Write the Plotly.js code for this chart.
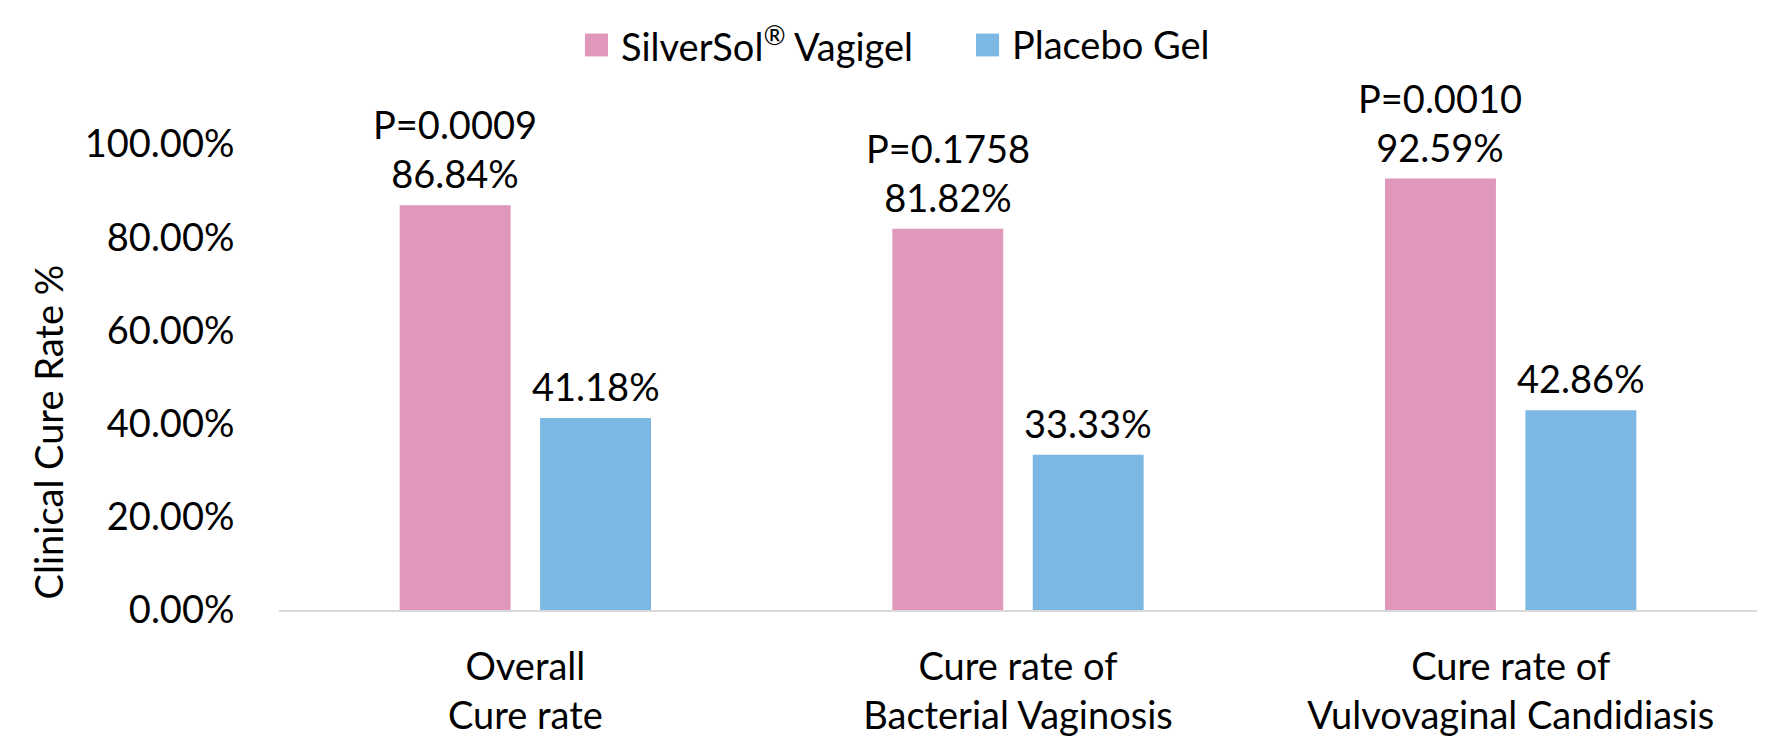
<!DOCTYPE html>
<html>
<head>
<meta charset="utf-8">
<script src="https://cdn.plot.ly/plotly-3.0.1.min.js"></script>
<style>
  html, body { margin: 0; padding: 0; background: #fff; }
  #chart { width: 1780px; height: 749px; }
</style>
</head>
<body>
<div id="chart"></div>
<script>
// categories on the x axis
let categories = [
    "Overall<br>Cure rate",
    "Cure rate of<br>Bacterial Vaginosis",
    "Cure rate of<br>Vulvovaginal Candidiasis"
];
let series_names = ["SilverSol<sup>®</sup> Vagigel", "Placebo Gel"];
let silversol_values = [0.8684, 0.8182, 0.9259];
let placebo_values = [0.4118, 0.3333, 0.4286];
let p_values = ["0.0009", "0.1758", "0.0010"];
let series_colors = ["#DF97BB", "#7DB8E5"];

let font_family = "Lato, 'Open Sans', sans-serif";
let font_size = 38;
let bar_gap = 0.43;

var data = [
    {
        type: 'bar',
        name: series_names[0],
        x: categories,
        y: silversol_values,
        marker: { color: series_colors[0] },
        showlegend: false,
        hoverinfo: 'y'
    },
    {
        type: 'bar',
        name: series_names[1],
        x: categories,
        y: placebo_values,
        marker: { color: series_colors[1] },
        showlegend: false,
        hoverinfo: 'y'
    }
];

// data labels above bars, placed at the grouped bar centres
var annotations = [];
var offset = (1 - bar_gap) / 4;
for (var i = 0; i < categories.length; ++i) {
    annotations.push({
        xref: 'x', yref: 'y',
        x: i - offset, y: silversol_values[i],
        text: "P=" + p_values[i] + "<br>" + (silversol_values[i] * 100).toFixed(2) + "%",
        showarrow: false, yanchor: 'bottom', yshift: 7
    });
    annotations.push({
        xref: 'x', yref: 'y',
        x: i + offset, y: placebo_values[i],
        text: (placebo_values[i] * 100).toFixed(2) + "%",
        showarrow: false, yanchor: 'bottom', yshift: 7
    });
}

// y axis title, sits a bit lower than the plot centre
annotations.push({
    xref: 'paper', yref: 'paper',
    x: -0.156, y: 0.382,
    text: "Clinical Cure Rate %",
    textangle: -90,
    showarrow: false,
    xanchor: 'center', yanchor: 'middle'
});

// legend drawn by hand so the swatches can be large
var legend_x = [0.2070, 0.4716];
var shapes = [];
for (var s = 0; s < series_names.length; ++s) {
    shapes.push({
        type: 'rect', xref: 'paper', yref: 'paper',
        x0: legend_x[s], x1: legend_x[s] + 0.0156,
        y0: 1.188, y1: 1.237,
        fillcolor: series_colors[s],
        line: { width: 0 }
    });
    annotations.push({
        xref: 'paper', yref: 'paper',
        x: legend_x[s] + 0.0230, y: 1.2136,
        text: series_names[s],
        showarrow: false,
        xanchor: 'left', yanchor: 'middle'
    });
}

var layout = {
    width: 1780,
    height: 749,
    margin: { l: 279, r: 23, t: 144, b: 139 },
    paper_bgcolor: '#ffffff',
    plot_bgcolor: '#ffffff',
    font: { family: font_family, size: font_size, color: '#000000' },
    barmode: 'group',
    bargap: bar_gap,
    bargroupgap: 0.21,
    showlegend: false,
    xaxis: {
        type: 'category',
        showline: true,
        linecolor: '#D9D9D9',
        linewidth: 2,
        showgrid: false,
        zeroline: false,
        ticks: 'outside',
        ticklen: 22,
        tickcolor: 'rgba(0,0,0,0)'
    },
    yaxis: {
        range: [0, 1],
        dtick: 0.2,
        tickformat: '.2%',
        showgrid: false,
        zeroline: false,
        showline: false,
        ticks: 'outside',
        ticklen: 36,
        tickcolor: 'rgba(0,0,0,0)'
    },
    shapes: shapes,
    annotations: annotations
};

Plotly.newPlot("chart", data, layout, { displayModeBar: false, staticPlot: true });
</script>
</body>
</html>
